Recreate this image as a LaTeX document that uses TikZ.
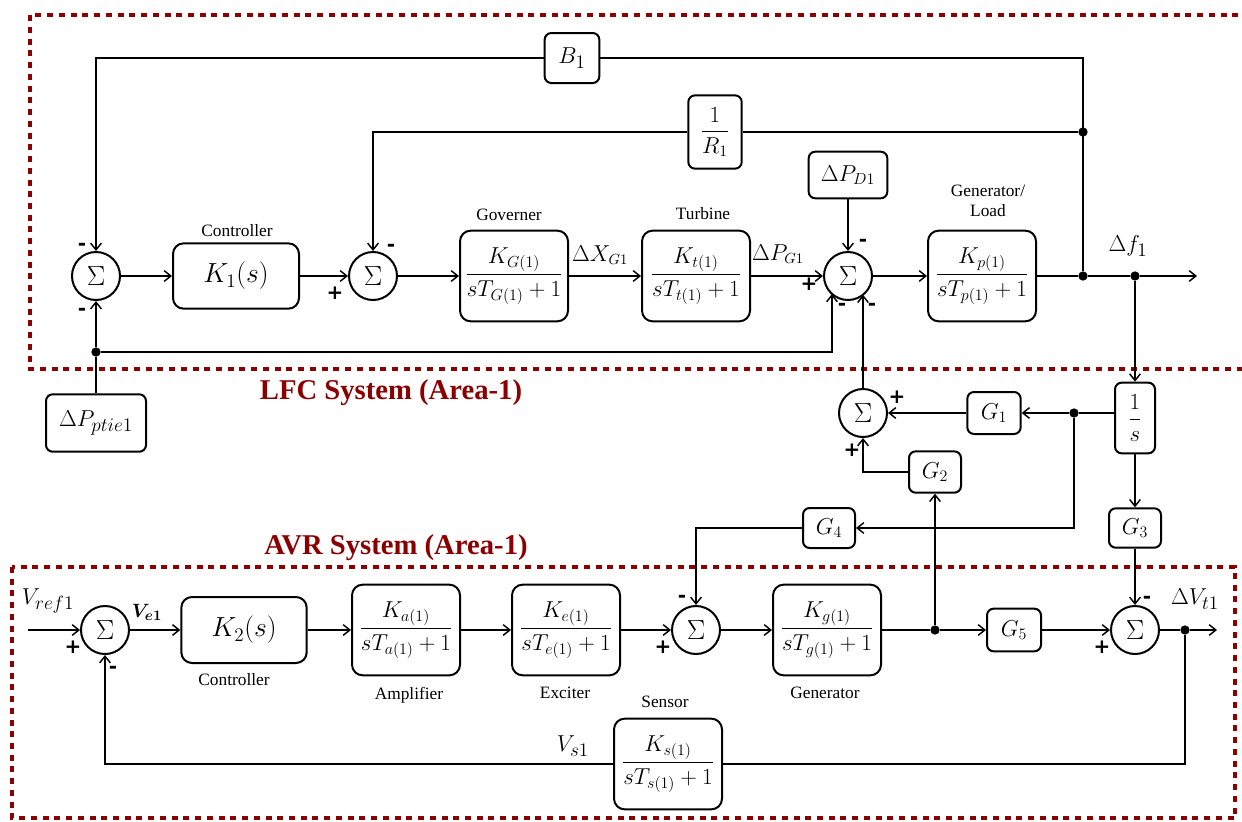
\documentclass[tikz,border=0pt]{standalone}
\usepackage{amsmath}
\usepackage{fontspec}
\setmainfont{Liberation Serif}
\newfontfamily\signfont{DejaVu Sans}
\usetikzlibrary{arrows.meta,calc}
\definecolor{dred}{RGB}{139,0,0}
\begin{document}
\begin{tikzpicture}[x=0.75pt,y=-0.75pt,
  line width=1.2pt,
  arr/.style={-{Straight Barb[length=5pt,width=8pt,line width=1.1pt]}},
  blk/.style={draw,line width=1.5pt,rounded corners=8pt,align=center,inner sep=0pt},
  bigblk/.style={blk,minimum width=81pt,minimum height=68pt,font=\fontsize{16.5}{19}\selectfont},
  sml/.style={draw,line width=1.5pt,rounded corners=5pt,inner sep=0pt,font=\fontsize{17}{19}\selectfont},
  sumn/.style={draw,circle,line width=1.5pt,minimum size=36pt,inner sep=0pt,font=\fontsize{21}{21}\selectfont},
  lbl/.style={font=\fontsize{13}{15}\selectfont,align=center,inner sep=0pt},
  mlbl/.style={font=\fontsize{16}{18}\selectfont,inner sep=0pt},
  sgn/.style={font=\signfont\bfseries\fontsize{15}{15}\selectfont,inner sep=0pt},
  dot/.style={circle,fill,inner sep=0pt,minimum size=7pt},
  area/.style={draw=dred,line width=3.6pt,dash pattern=on 4.5pt off 4.3pt},
  ttl/.style={font=\bfseries\fontsize{21.5}{24}\selectfont,text=dred,inner sep=0pt}
]
\useasboundingbox (0,0) rectangle (1242,821);

% dashed areas
\draw[area] (1250,15) -- (30,15) -- (30,369) -- (1250,369);
\draw[area] (12,567) rectangle (1235,818);
\node[ttl] (t1) at (391,393) {LFC System (Area-1)};
\node[ttl] (t2) at (396,548) {AVR System (Area-1)};

% ---------------- LFC ----------------
\node[sumn] (s1) at (96,276) {$\Sigma$};
\node[blk,minimum width=94.5pt,minimum height=49pt,font=\fontsize{22}{24}\selectfont] (K1) at (236,276) {$K_1(s)$};
\node[sumn] (s2) at (373,276) {$\Sigma$};
\node[bigblk] (gov) at (514,276) {$\dfrac{K_{G(1)}}{sT_{G(1)}+1}$};
\node[bigblk] (tur) at (696,276) {$\dfrac{K_{t(1)}}{sT_{t(1)}+1}$};
\node[sumn] (s3) at (848,276) {$\Sigma$};
\node[bigblk] (gl) at (982,276) {$\dfrac{K_{p(1)}}{sT_{p(1)}+1}$};
\node[sml,minimum width=41pt,minimum height=37.5pt,font=\fontsize{19}{21}\selectfont] (B1) at (572,58) {$B_1$};
\node[sml,minimum width=40pt,minimum height=55pt] (R) at (715,132) {$\dfrac{1}{R_1}$};
\node[sml,minimum width=59pt,minimum height=35pt] (PD) at (848,175) {$\Delta P_{D1}$};
\node[sml,minimum width=75pt,minimum height=43pt,font=\fontsize{19}{21}\selectfont] (ptie) at (96,423) {$\Delta P_{ptie1}$};
\node[sml,minimum width=30pt,minimum height=53pt] (is) at (1135,418) {$\dfrac{1}{s}$};
\node[sml,minimum width=40pt,minimum height=31.5pt] (G1) at (994,413) {$G_1$};
\node[sumn] (s4) at (863,413) {$\Sigma$};
\node[sml,minimum width=39pt,minimum height=31pt] (G2) at (935,472) {$G_2$};
\node[sml,minimum width=39pt,minimum height=30pt] (G4) at (829,528) {$G_4$};
\node[sml,minimum width=39pt,minimum height=29.5pt] (G3) at (1135,528) {$G_3$};

\node[dot] (j1) at (1083,276) {};
\node[dot] (jR) at (1083,132) {};
\node[dot] (j2) at (1135,276) {};
\coordinate (out1) at (1197,276);
\node[dot] (jp) at (96,352) {};
\node[dot] (jG) at (1074,413) {};

% labels LFC
\node[lbl] (lc1) at (237,231) {Controller};
\node[lbl] (lgov) at (509,215) {Governer};
\node[lbl] (ltur) at (703,214) {Turbine};
\node[lbl] (lgl) at (988,201) {Generator/\\Load};
\node[mlbl] (lxg) at (600,255) {$\Delta X_{G1}$};
\node[mlbl] (lpg) at (778,254) {$\Delta P_{G1}$};
\node[mlbl,font=\fontsize{19}{21}\selectfont] (lf) at (1128,246) {$\Delta f_1$};

% signs LFC
\node[sgn] (g1a) at (82,247) {-};
\node[sgn] (g1b) at (82,312) {-};
\node[sgn] (g2a) at (335,293) {+};
\node[sgn] (g2b) at (391,248) {-};
\node[sgn] (g3a) at (809,284) {+};
\node[sgn] (g3b) at (863,243) {-};
\node[sgn] (g3c) at (842,307) {-};
\node[sgn] (g3d) at (872,307) {-};
\node[sgn] (g4a) at (897,397) {+};
\node[sgn] (g4b) at (852,450) {+};

% ---------------- AVR ----------------
\coordinate (in1) at (28,630);
\node[sumn] (s6) at (105,630) {$\Sigma$};
\node[blk,minimum width=94pt,minimum height=49.5pt,font=\fontsize{22}{24}\selectfont] (K2) at (244,630) {$K_2(s)$};
\node[bigblk] (amp) at (406,630) {$\dfrac{K_{a(1)}}{sT_{a(1)}+1}$};
\node[bigblk] (exc) at (566,630) {$\dfrac{K_{e(1)}}{sT_{e(1)}+1}$};
\node[sumn] (s5) at (696,630) {$\Sigma$};
\node[bigblk] (gen) at (827,630) {$\dfrac{K_{g(1)}}{sT_{g(1)}+1}$};
\node[dot] (jA) at (935,630) {};
\node[sml,minimum width=40.5pt,minimum height=32pt] (G5) at (1014,630) {$G_5$};
\node[sumn] (s7) at (1135,630) {$\Sigma$};
\node[dot] (jV) at (1185,630) {};
\coordinate (out2) at (1217,630);
\node[bigblk] (sen) at (668,764) {$\dfrac{K_{s(1)}}{sT_{s(1)}+1}$};

% labels AVR
\node[mlbl,font=\fontsize{19}{21}\selectfont] (lvr) at (48,601) {$V_{ref1}$};
\node[mlbl,font=\fontsize{15}{17}\selectfont] (lve) at (147,612) {$\boldsymbol{V_{e1}}$};
\node[lbl] (lc2) at (234,680) {Controller};
\node[lbl] (lamp) at (409,695) {Amplifier};
\node[lbl] (lexc) at (565,693) {Exciter};
\node[lbl] (lsen) at (665,702) {Sensor};
\node[lbl] (lgen) at (825,693) {Generator};
\node[mlbl,font=\fontsize{19}{21}\selectfont] (lvs) at (573,746) {$V_{s1}$};
\node[mlbl,font=\fontsize{19}{21}\selectfont] (lvt) at (1195,599) {$\Delta V_{t1}$};

% signs AVR
\node[sgn] (g6a) at (73,647) {+};
\node[sgn] (g6b) at (113,670) {-};
\node[sgn] (g5a) at (682,599) {-};
\node[sgn] (g5b) at (663,647) {+};
\node[sgn] (g7a) at (1147,600) {-};
\node[sgn] (g7b) at (1102,647) {+};

% connectors LFC
\draw[arr] (s1) -- (K1);
\draw[arr] (K1) -- (s2);
\draw[arr] (s2) -- (gov);
\draw[arr] (gov) -- (tur);
\draw[arr] (tur) -- (s3);
\draw[arr] (s3) -- (gl);
\draw (gl) -- (j1) -- (j2);
\draw[arr] (j2) -- (out1);
\draw (j1) -- (j1 |- B1.east) -- (B1.east);
\draw[arr] (B1.west) -| (s1.north);
\draw (jR) -- (R.east);
\draw[arr] (R.west) -| (s2.north);
\draw[arr] (PD) -- (s3);
\draw (ptie.north) -- (jp);
\draw[arr] (jp) -- (s1.south);
\draw[arr] (jp) -| ($(s3)+(-16,17.9)$);
\draw[arr] (s4.north) -- ($(s3)+(15,18.7)$);
\draw[arr] (j2) -- (is.north);
\draw[arr] (is) -- (G3);
\draw (is.west |- G1.east) -- (jG);
\draw[arr] (jG) -- (G1.east);
\draw[arr] (G1) -- (s4);
\draw[arr] (jG) |- (G4.east);
\draw[arr] (G4.west) -| (s5.north);
\draw[arr] (G2.west) -| (s4.south);

% connectors AVR
\draw[arr] (in1) -- (s6);
\draw[arr] (s6) -- (K2);
\draw[arr] (K2) -- (amp);
\draw[arr] (amp) -- (exc);
\draw[arr] (exc) -- (s5);
\draw[arr] (s5) -- (gen);
\draw (gen) -- (jA);
\draw[arr] (jA) -- (G5);
\draw[arr] (G5) -- (s7);
\draw (s7) -- (jV);
\draw[arr] (jV) -- (out2);
\draw (jV) |- (sen.east);
\draw[arr] (sen.west) -| (s6.south);
\draw[arr] (jA) -- (G2.south);
\draw[arr] (G3) -- (s7);
\end{tikzpicture}
\end{document}
